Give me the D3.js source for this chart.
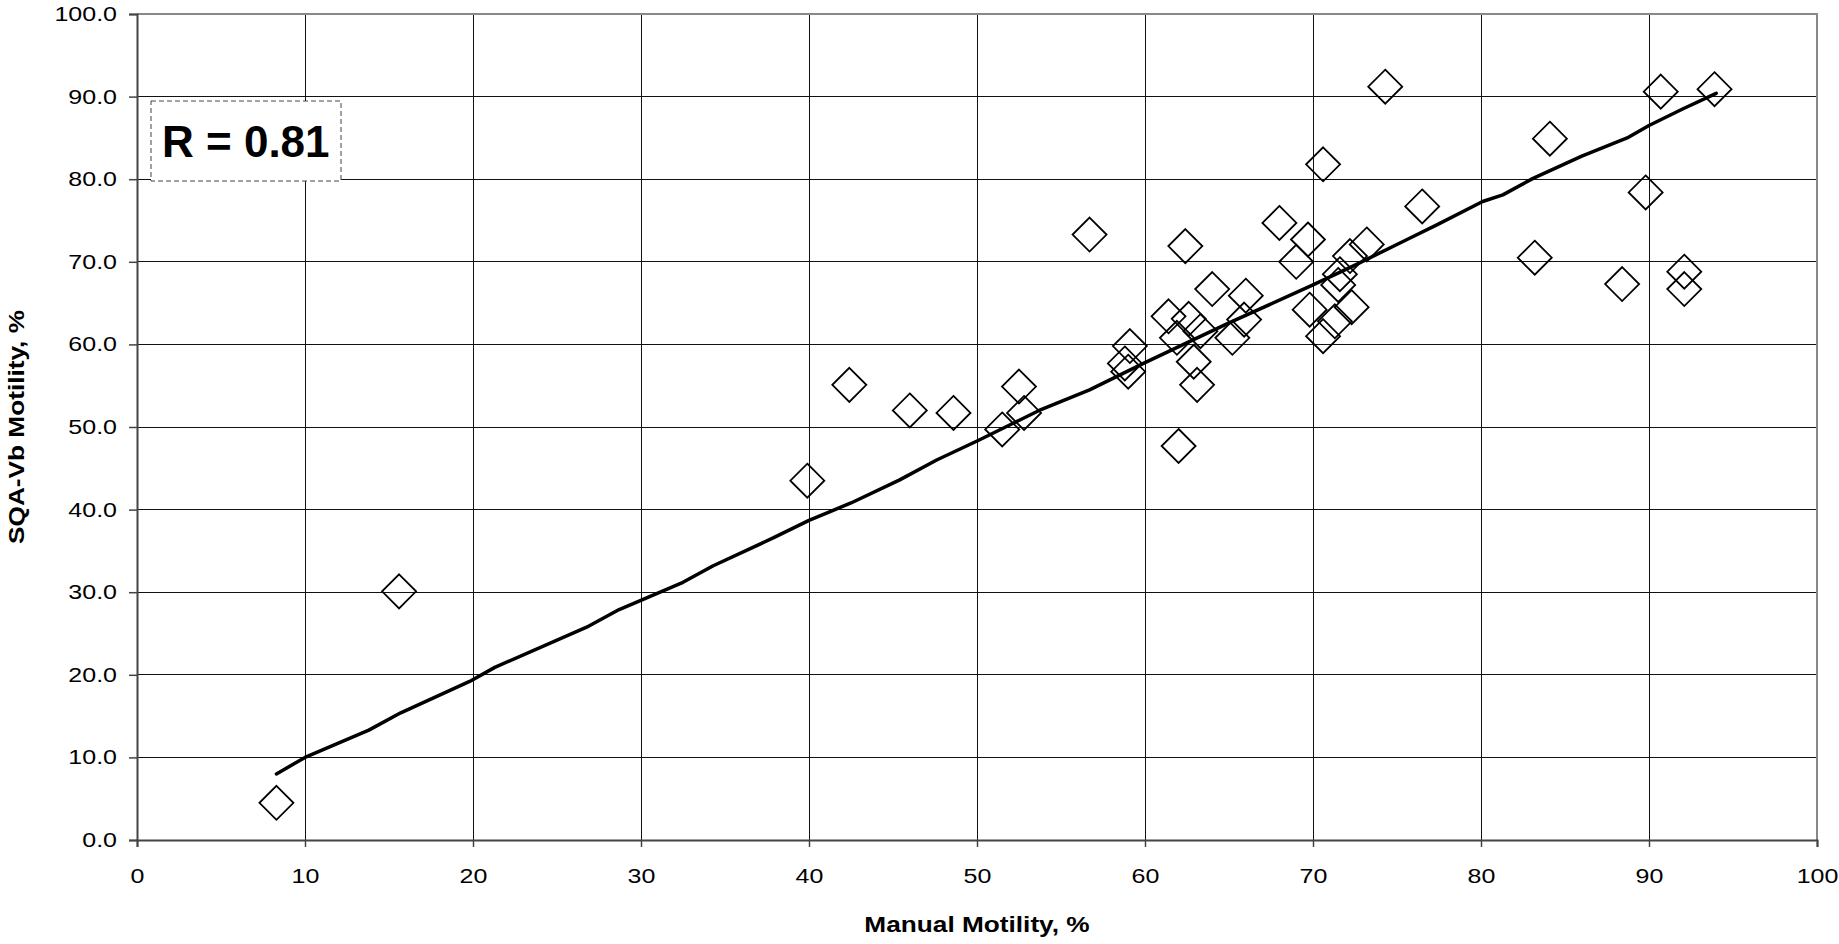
<!DOCTYPE html>
<html>
<head>
<meta charset="utf-8">
<script src="https://cdn.jsdelivr.net/npm/d3@7"></script>
<style>
  body { margin: 0; background: #fff; }
  svg { display: block; font-family: "Liberation Sans", Arial, sans-serif; }
</style>
</head>
<body>
<div class="chart"></div>
<script>
// manual motility (x) vs SQA-Vb motility (y)
var manual = [8.3, 15.6, 39.9, 42.4, 46.0, 48.6, 51.5, 52.5, 52.8, 56.7,
              59.1, 58.8, 59.0, 62.0, 61.4, 62.6, 63.3, 61.9, 62.9, 63.1,
              65.2, 65.9, 66.0, 64.0, 62.4, 68.0, 69.7, 69.0, 69.8, 70.6,
              71.3, 72.3, 71.5, 71.6, 72.2, 73.2, 70.6, 74.3, 76.5, 84.1,
              83.2, 88.4, 89.8, 90.7, 93.9, 92.1, 92.1];
var sqa = [4.5, 30.1, 43.5, 55.1, 52.0, 51.7, 49.7, 54.9, 51.7, 73.3,
           59.8, 57.7, 56.7, 47.7, 63.4, 63.1, 61.6, 60.8, 57.9, 55.1,
           60.8, 63.0, 65.9, 66.7, 71.9, 74.7, 72.7, 70.0, 64.2, 61.0,
           62.8, 64.5, 67.2, 68.5, 70.7, 72.1, 81.8, 91.2, 76.7, 84.9,
           70.5, 67.3, 78.4, 90.6, 90.9, 68.8, 66.7];

// fitted line vertices
var fitX = [8.3, 10.0, 13.8, 15.7, 19.8, 21.3, 26.9, 28.7, 32.5, 34.3,
            37.9, 40.0, 42.5, 45.4, 47.6, 50.1, 53.7, 56.7, 60.0, 65.0,
            70.0, 72.5, 75.6, 77.4, 80.1, 81.3, 83.1, 86.0, 88.7, 90.0,
            92.0, 94.0];
var fitY = [8.0, 10.0, 13.3, 15.4, 19.2, 20.9, 25.9, 27.9, 31.2, 33.2,
            36.6, 38.7, 40.8, 43.6, 46.0, 48.4, 52.0, 54.5, 57.8, 62.6,
            67.2, 69.6, 72.7, 74.5, 77.3, 78.1, 80.1, 82.8, 85.0, 86.5,
            88.5, 90.4];

var xTicks = [0, 10, 20, 30, 40, 50, 60, 70, 80, 90, 100];
var yTicks = [0, 10, 20, 30, 40, 50, 60, 70, 80, 90, 100];

var xTitle = "Manual Motility, %";
var yTitle = "SQA-Vb Motility, %";
var rLabel = "R = 0.81";

var svgWidth = 1839;
var svgHeight = 944;
var plot = {left: 137, right: 1817, top: 14, bottom: 840};
var fontSize = 20.5;
var titleSize = 21.5;
var stretch = 1.22;   // the original text is a bit wide

var svg = d3.select(".chart")
    .append("svg")
    .attr("width", svgWidth)
    .attr("height", svgHeight);

var xScale = d3.scaleLinear().domain([0, 100]).range([plot.left, plot.right]);
var yScale = d3.scaleLinear().domain([0, 100]).range([plot.bottom, plot.top]);

// grid
var grid = svg.append("g").attr("shape-rendering", "crispEdges");
grid.selectAll(".vgrid")
    .data(xTicks.slice(1, -1))
    .enter().append("line")
    .attr("x1", function(d){ return xScale(d); })
    .attr("x2", function(d){ return xScale(d); })
    .attr("y1", plot.top).attr("y2", plot.bottom)
    .attr("stroke", "#111").attr("stroke-width", 1);
grid.selectAll(".hgrid")
    .data(yTicks.slice(1, -1))
    .enter().append("line")
    .attr("y1", function(d){ return yScale(d); })
    .attr("y2", function(d){ return yScale(d); })
    .attr("x1", plot.left).attr("x2", plot.right)
    .attr("stroke", "#111").attr("stroke-width", 1);

// top and right border
svg.append("path")
    .attr("d", "M" + plot.left + "," + plot.top + "H" + plot.right + "V" + plot.bottom)
    .attr("fill", "none").attr("stroke", "#888").attr("stroke-width", 2);

// axes
var xAxis = d3.axisBottom(xScale).tickValues(xTicks).tickSize(7)
    .tickFormat(d3.format("d"));
var yAxis = d3.axisLeft(yScale).tickValues(yTicks).tickSize(8)
    .tickFormat(d3.format(".1f"));

var gx = svg.append("g")
    .attr("transform", "translate(0," + plot.bottom + ")")
    .call(xAxis);
var gy = svg.append("g")
    .attr("transform", "translate(" + plot.left + ",0)")
    .call(yAxis);
[gx, gy].forEach(function(g){
    g.select(".domain").attr("stroke", "#444").attr("stroke-width", 2);
    g.selectAll(".tick line").attr("stroke", "#444").attr("stroke-width", 1.5);
    g.selectAll("text").attr("font-family", "'Liberation Sans', Arial, sans-serif")
        .attr("font-size", fontSize).attr("fill", "#000");
});
gx.selectAll(".tick text")
    .attr("y", 0)
    .attr("transform", "translate(0,28) scale(" + stretch + ",1)");
gy.selectAll(".tick text")
    .attr("x", 0)
    .attr("transform", "translate(-20,0) scale(" + stretch + ",1)");

// R box
svg.append("rect")
    .attr("x", 151).attr("y", 101).attr("width", 190).attr("height", 80)
    .attr("fill", "#fff").attr("stroke", "#444").attr("stroke-width", 1)
    .attr("stroke-dasharray", "5,3");
svg.append("text")
    .attr("x", 162).attr("y", 157)
    .attr("font-size", 44).attr("font-weight", "bold")
    .text(rLabel);

// points
var points = manual.map(function(d, i){ return {x: d, y: sqa[i]}; });
var s = 17;
svg.append("g").selectAll("path")
    .data(points)
    .enter().append("path")
    .attr("transform", function(d){ return "translate(" + xScale(d.x) + "," + yScale(d.y) + ")"; })
    .attr("d", "M0," + (-s) + "L" + s + ",0L0," + s + "L" + (-s) + ",0Z")
    .attr("fill", "none").attr("stroke", "#000").attr("stroke-width", 1.8);

// fitted line
var fit = fitX.map(function(d, i){ return [d, fitY[i]]; });
var line = d3.line()
    .x(function(d){ return xScale(d[0]); })
    .y(function(d){ return yScale(d[1]); });
svg.append("path")
    .datum(fit)
    .attr("d", line)
    .attr("fill", "none").attr("stroke", "#000").attr("stroke-width", 3.5)
    .attr("stroke-linecap", "round").attr("stroke-linejoin", "round");

// titles
svg.append("text")
    .attr("transform", "translate(" + (plot.left + plot.right) / 2 + ",932) scale(" + stretch + ",1)")
    .attr("text-anchor", "middle").attr("font-size", titleSize).attr("font-weight", "bold")
    .text(xTitle);
svg.append("text")
    .attr("transform", "translate(24," + (plot.top + plot.bottom) / 2 + ") rotate(-90) scale(" + stretch + ",1)")
    .attr("text-anchor", "middle").attr("font-size", titleSize).attr("font-weight", "bold")
    .text(yTitle);
</script>
</body>
</html>
